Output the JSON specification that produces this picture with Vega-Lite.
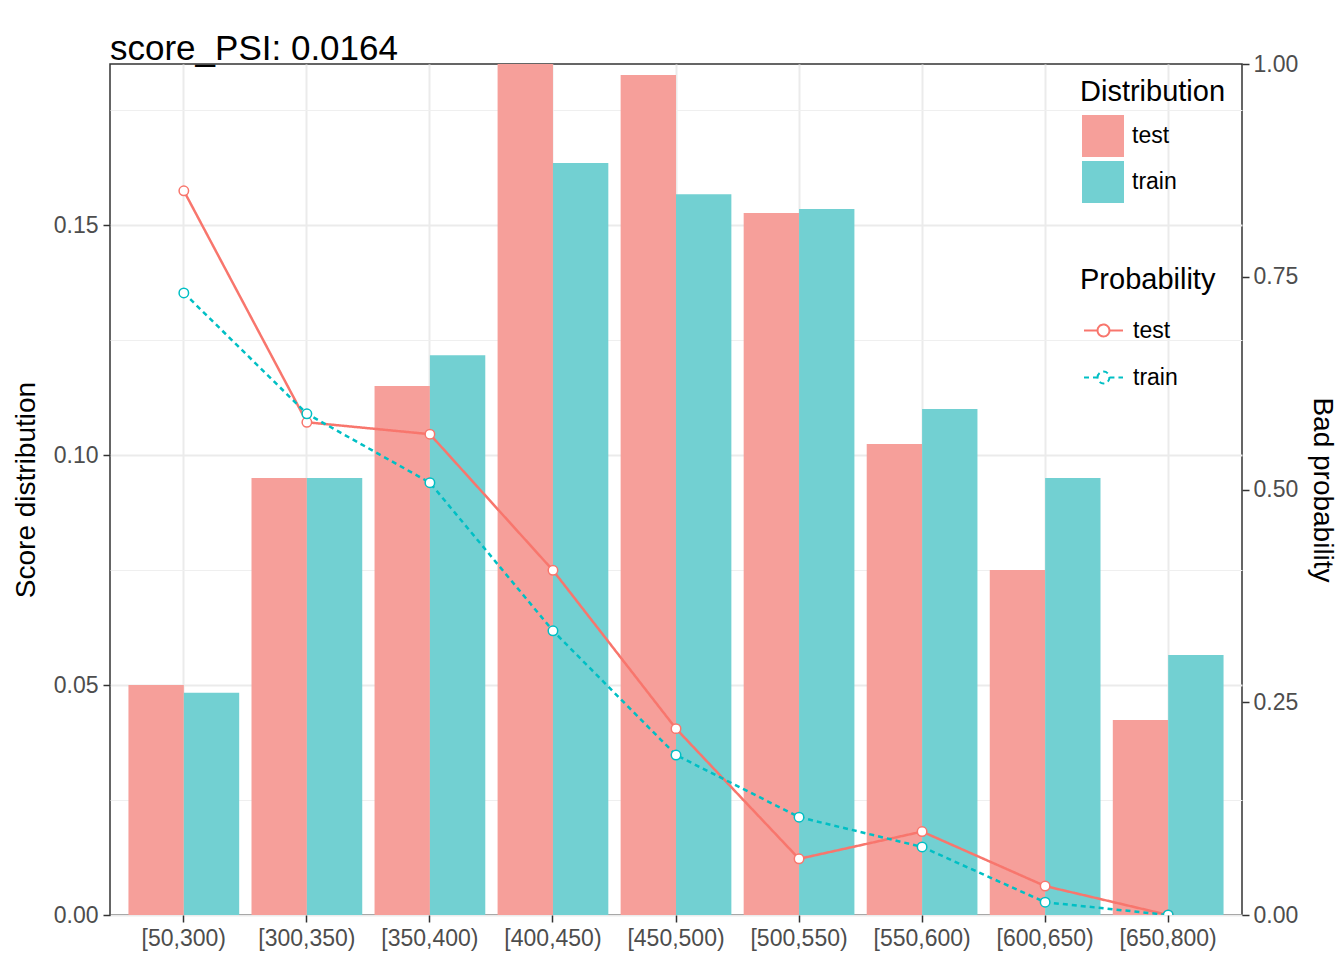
{
  "$schema": "https://vega.github.io/schema/vega-lite/v6.json",
  "autosize": {"type": "none"},
  "width": 1132,
  "height": 851,
  "padding": {"left": 110, "top": 64, "right": 102, "bottom": 45},
  "background": "white",
  "config": {
    "font": "Liberation Sans",
    "view": {"stroke": "#333333", "strokeWidth": 1.5},
    "axis": {
      "labelFont": "Liberation Sans",
      "titleFont": "Liberation Sans",
      "labelFontSize": 23,
      "labelColor": "#4D4D4D",
      "titleFontSize": 28,
      "titleFontWeight": "normal",
      "titleColor": "black",
      "tickColor": "#333333",
      "tickWidth": 1.5,
      "tickSize": 7,
      "domain": false,
      "gridColor": "#EBEBEB",
      "gridWidth": 2
    },
    "legend": {
      "labelFont": "Liberation Sans",
      "titleFont": "Liberation Sans",
      "labelFontSize": 23,
      "labelColor": "black",
      "titleFontSize": 29,
      "titleFontWeight": "normal",
      "titleColor": "black"
    }
  },
  "title": {
    "text": "score_PSI: 0.0164",
    "anchor": "start",
    "frame": "group",
    "fontSize": 35,
    "fontWeight": "normal",
    "color": "black",
    "font": "Liberation Sans",
    "baseline": "alphabetic",
    "offset": 2,
    "dy": 44
  },
  "data": {
    "values": [
      {"bin": "[50,300)", "dataset": "test", "dist": 0.0500, "prob": 0.851},
      {"bin": "[50,300)", "dataset": "train", "dist": 0.0483, "prob": 0.731},
      {"bin": "[300,350)", "dataset": "test", "dist": 0.0950, "prob": 0.579},
      {"bin": "[300,350)", "dataset": "train", "dist": 0.0950, "prob": 0.589},
      {"bin": "[350,400)", "dataset": "test", "dist": 0.1150, "prob": 0.565},
      {"bin": "[350,400)", "dataset": "train", "dist": 0.1217, "prob": 0.508},
      {"bin": "[400,450)", "dataset": "test", "dist": 0.1850, "prob": 0.405},
      {"bin": "[400,450)", "dataset": "train", "dist": 0.1635, "prob": 0.334},
      {"bin": "[450,500)", "dataset": "test", "dist": 0.1826, "prob": 0.219},
      {"bin": "[450,500)", "dataset": "train", "dist": 0.1567, "prob": 0.188},
      {"bin": "[500,550)", "dataset": "test", "dist": 0.1526, "prob": 0.066},
      {"bin": "[500,550)", "dataset": "train", "dist": 0.1535, "prob": 0.115},
      {"bin": "[550,600)", "dataset": "test", "dist": 0.1024, "prob": 0.098},
      {"bin": "[550,600)", "dataset": "train", "dist": 0.1100, "prob": 0.080},
      {"bin": "[600,650)", "dataset": "test", "dist": 0.0750, "prob": 0.034},
      {"bin": "[600,650)", "dataset": "train", "dist": 0.0950, "prob": 0.015},
      {"bin": "[650,800)", "dataset": "test", "dist": 0.0424, "prob": 0.000},
      {"bin": "[650,800)", "dataset": "train", "dist": 0.0565, "prob": 0.000}
    ]
  },
  "encoding": {
    "x": {
      "field": "bin",
      "type": "nominal",
      "sort": ["[50,300)", "[300,350)", "[350,400)", "[400,450)", "[450,500)", "[500,550)", "[550,600)", "[600,650)", "[650,800)"],
      "scale": {"paddingInner": 0.1, "paddingOuter": 0.15},
      "axis": {"title": null, "labelAngle": 0, "bandPosition": 0.5, "grid": true, "labelPadding": 5}
    }
  },
  "layer": [
    {
      "mark": {"type": "bar", "clip": true},
      "encoding": {
        "xOffset": {"field": "dataset", "type": "nominal", "scale": {"paddingInner": 0, "paddingOuter": 0}},
        "y": {
          "field": "dist",
          "type": "quantitative",
          "scale": {"domain": [0, 0.185], "nice": false},
          "axis": {
            "title": "Score distribution",
            "orient": "left",
            "values": [0, 0.025, 0.05, 0.075, 0.1, 0.125, 0.15, 0.175],
            "labelExpr": "(round(datum.value * 1000) % 50 == 0) ? format(datum.value, '.2f') : ''",
            "tickOpacity": {"condition": {"test": "round(datum.value * 1000) % 50 == 0", "value": 1}, "value": 0},
            "gridWidth": {"condition": {"test": "round(datum.value * 1000) % 50 == 0", "value": 2}, "value": 1},
            "gridColor": {"condition": {"test": "round(datum.value * 1000) % 50 == 0", "value": "#EBEBEB"}, "value": "#EFEFEF"},
            "labelPadding": 5,
            "titlePadding": 13
          }
        },
        "fill": {
          "field": "dataset",
          "type": "nominal",
          "scale": {"domain": ["test", "train"], "range": ["#F69F9A", "#72D0D2"]},
          "legend": {
            "title": "Distribution",
            "orient": "none",
            "legendX": 970,
            "legendY": 14,
            "padding": 0,
            "symbolType": "square",
            "symbolSize": 1764,
            "symbolStrokeWidth": 0,
            "symbolOffset": 2,
            "titlePadding": 8,
            "rowPadding": 4,
            "labelOffset": 8
          }
        }
      }
    },
    {
      "mark": {"type": "line", "clip": true, "strokeWidth": 2.5},
      "encoding": {
        "y": {
          "field": "prob",
          "type": "quantitative",
          "scale": {"domain": [0, 1], "nice": false},
          "axis": {
            "title": "Bad probability",
            "orient": "right",
            "values": [0, 0.25, 0.5, 0.75, 1],
            "format": ".2f",
            "grid": false,
            "labelPadding": 4,
            "titlePadding": 10
          }
        },
        "stroke": {
          "field": "dataset",
          "type": "nominal",
          "scale": {"domain": ["test", "train"], "range": ["#F8766D", "#00BFC4"]},
          "legend": {
            "title": "Probability",
            "orient": "none",
            "legendX": 970,
            "legendY": 202,
            "padding": 0,
            "symbolType": "M-0.95,0L-0.29,0M0.29,0L0.95,0M-0.29,0C-0.29,-0.16,-0.16,-0.29,0,-0.29C0.16,-0.29,0.29,-0.16,0.29,0C0.29,0.16,0.16,0.29,0,0.29C-0.16,0.29,-0.29,0.16,-0.29,0Z",
            "symbolSize": 1681,
            "symbolFillColor": "white",
            "symbolStrokeWidth": 2,
            "symbolOffset": 2,
            "titlePadding": 14,
            "rowPadding": 13,
            "labelOffset": 8
          }
        },
        "strokeDash": {
          "field": "dataset",
          "type": "nominal",
          "scale": {"domain": ["test", "train"], "range": [[1, 0], [5, 4]]},
          "legend": {
            "title": "Probability",
            "orient": "none",
            "legendX": 970,
            "legendY": 202
          }
        }
      }
    },
    {
      "mark": {"type": "point", "clip": true, "filled": true, "fill": "white", "size": 90, "strokeWidth": 1.5, "opacity": 1},
      "encoding": {
        "y": {"field": "prob", "type": "quantitative", "scale": {"domain": [0, 1], "nice": false}, "axis": null},
        "stroke": {"field": "dataset", "type": "nominal", "legend": null}
      }
    }
  ],
  "resolve": {"scale": {"y": "independent", "fill": "independent"}}
}
